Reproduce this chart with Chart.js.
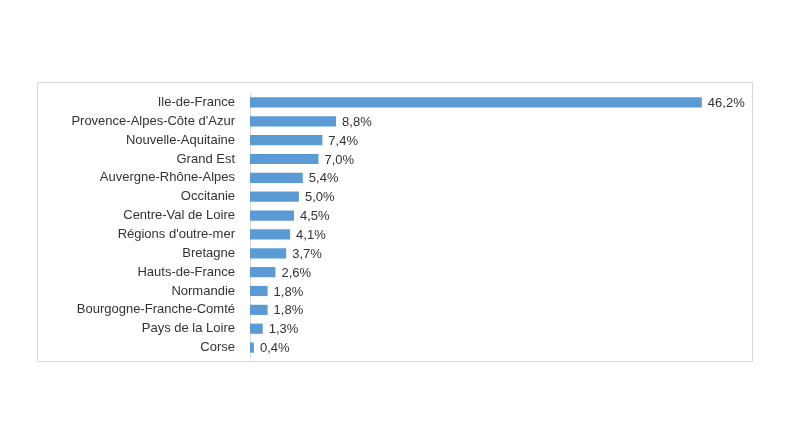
<!DOCTYPE html>
<html>
<head>
<meta charset="utf-8">
<script src="https://cdn.jsdelivr.net/npm/chart.js@4"></script>
<style>
  html, body { margin: 0; padding: 0; background: #fff; }
  #box {
    position: absolute; left: 37px; top: 82px;
    width: 714px; height: 278px;
    border: 1px solid #d9d9d9;
  }
  #box canvas { display: block; }
</style>
</head>
<body>
<div id="box"><canvas id="chart" width="714" height="278"></canvas></div>
<script>
// ---------- données ----------
const regions = [
  'Ile-de-France', 'Provence-Alpes-Côte d\'Azur', 'Nouvelle-Aquitaine', 'Grand Est',
  'Auvergne-Rhône-Alpes', 'Occitanie', 'Centre-Val de Loire', 'Régions d\'outre-mer',
  'Bretagne', 'Hauts-de-France', 'Normandie', 'Bourgogne-Franche-Comté',
  'Pays de la Loire', 'Corse',
];
const shares = [46.2, 8.8, 7.4, 7.0, 5.4, 5.0, 4.5, 4.1, 3.7, 2.6, 1.8, 1.8, 1.3, 0.4];

const fmt = (v) => v.toFixed(1).replace('.', ',') + '%';
const FONT = '"Liberation Sans", Arial, sans-serif';

// étiquettes de valeur au bout des barres
const valueLabels = {
  id: 'valueLabels',
  afterDatasetsDraw(chart) {
    const ctx = chart.ctx;
    const meta = chart.getDatasetMeta(0);
    ctx.save();
    ctx.font = '13px ' + FONT;
    ctx.fillStyle = '#333333';
    ctx.textAlign = 'left';
    ctx.textBaseline = 'middle';
    meta.data.forEach((bar, i) => {
      ctx.fillText(fmt(shares[i]), bar.x + 6, bar.y + 1);
    });
    ctx.restore();
  },
};

new Chart(document.getElementById('chart'), {
  type: 'bar',
  data: {
    labels: regions,
    datasets: [{
      data: shares,
      backgroundColor: '#5b9bd5',
      categoryPercentage: 1,
      barPercentage: 0.54,
    }],
  },
  options: {
    indexAxis: 'y',
    responsive: false,
    animation: false,
    events: [],
    layout: { padding: { top: 10, bottom: 4, right: 13, left: 0 } },
    plugins: { legend: { display: false }, tooltip: { enabled: false } },
    scales: {
      x: {
        min: 0,
        max: 50,
        display: false,
      },
      y: {
        grid: {
          display: true,
          drawOnChartArea: false,
          drawTicks: true,
          tickLength: 14,
          tickColor: 'rgba(0,0,0,0)',
          color: 'rgba(0,0,0,0)',
        },
        border: { display: true, color: '#d9d9d9' },
        ticks: {
          color: '#333333',
          padding: 1,
          font: { family: FONT, size: 13 },
        },
        afterFit: (scale) => {
          scale.width = 212;
          scale.paddingTop = 0;
          scale.paddingBottom = 0;
        },
      },
    },
  },
  plugins: [valueLabels],
});
</script>
</body>
</html>
